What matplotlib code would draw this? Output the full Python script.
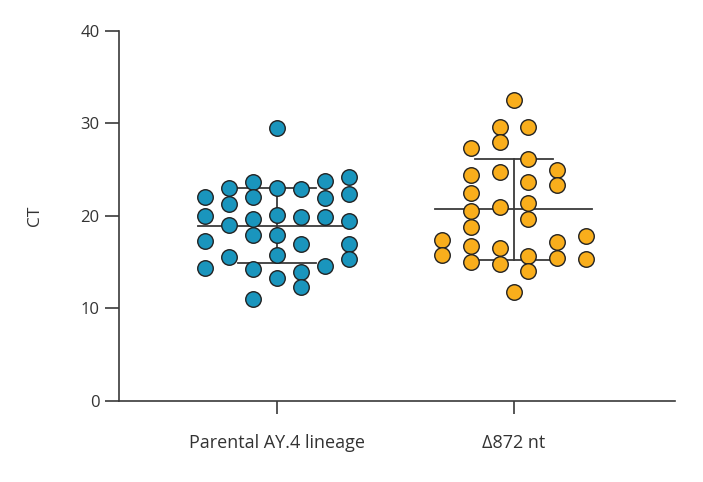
import numpy as np
import matplotlib
matplotlib.use('Agg')
from matplotlib import pyplot as plt

categories = ['Parental AY.4 lineage', 'Δ872 nt']

# CT values per plotted column (left to right) of each group
parental_cols = [
    [22.0, 19.97, 17.3, 14.4],
    [22.96, 21.27, 18.96, 15.57],
    [23.68, 22.0, 19.64, 17.95, 14.24, 10.96],
    [29.45, 23.03, 20.04, 17.95, 15.78, 13.23],
    [22.85, 19.86, 17.0, 13.9, 12.32],
    [23.75, 21.95, 19.9, 14.56],
    [24.18, 22.38, 19.43, 16.94, 15.35],
]
delta_cols = [
    [17.4, 15.75],
    [27.35, 24.47, 22.49, 20.5, 18.81, 16.72, 14.96],
    [29.62, 27.97, 24.69, 20.97, 16.47, 14.74],
    [32.58, 11.72],
    [29.62, 26.1, 23.64, 21.34, 19.68, 15.64, 13.99],
    [25.0, 23.35, 17.12, 15.46],
    [17.77, 15.29],
]
# centre line and bar ends
centre = [18.92, 20.69]
lower = [14.85, 15.21]
upper = [23.03, 26.13]

colors = ['#1a95bd', '#f9ae1c']
edge = '#222222'
axcol = '#3a3a3a'

fig = plt.figure(figsize=(7.03, 4.82), dpi=100)
ax = fig.add_axes([0.1693, 0.1687, 0.7907, 0.767])

# horizontal spread of the dot columns
col_offsets = [
    np.array([-0.304, -0.203, -0.101, 0, 0.101, 0.203, 0.304]),
    np.array([-0.303, -0.181, -0.059, 0, 0.059, 0.181, 0.303]),
]

for i, cols in enumerate([parental_cols, delta_cols]):
    for j, vals in enumerate(cols):
        xs = np.full(len(vals), i + col_offsets[i][j])
        ax.scatter(xs, vals, s=125, color=colors[i], edgecolor=edge,
                   linewidth=1.0, zorder=3)
    ax.plot([i - 0.335, i + 0.33], [centre[i], centre[i]], color=axcol, lw=1.3, zorder=2)
    ax.plot([i, i], [lower[i], upper[i]], color=axcol, lw=1.3, zorder=2)
    for v in (lower[i], upper[i]):
        ax.plot([i - 0.165, i + 0.165], [v, v], color=axcol, lw=1.3, zorder=2)

ax.set_xlim(-0.667, 1.679)
ax.set_ylim(0, 40)
ax.set_yticks([0, 10, 20, 30, 40])
ax.set_xticks([0, 1])
ax.set_xticklabels(categories)
for s in ['top', 'right']:
    ax.spines[s].set_visible(False)
for s in ['left', 'bottom']:
    ax.spines[s].set_color(axcol)
    ax.spines[s].set_linewidth(1.2)
ax.tick_params(axis='y', length=10, width=1.2, color=axcol, labelsize=12,
               labelcolor='#333333', pad=4)
ax.tick_params(axis='x', length=9, width=1.2, color=axcol, labelsize=13,
               labelcolor='#333333', pad=15)
for lab in ax.get_xticklabels() + ax.get_yticklabels():
    lab.set_family('Open Sans')
ax.set_ylabel('CT', fontsize=12.5, color='#333333', family='Open Sans', labelpad=27)

plt.savefig('out.png', dpi=100)
